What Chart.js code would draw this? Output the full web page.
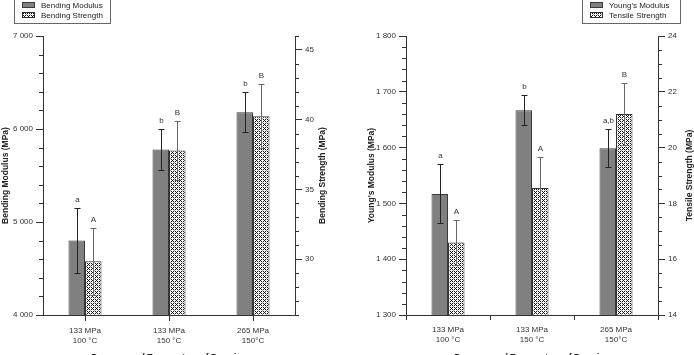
<!DOCTYPE html>
<html><head><meta charset="utf-8">
<script src="https://cdn.jsdelivr.net/npm/chart.js@4.4.1/dist/chart.umd.min.js"></script>
<style>
html,body{margin:0;padding:0;width:694px;height:355px;overflow:hidden;background:#fff;}
canvas{position:absolute;top:0;}
#c1{left:0}#c2{left:347px}
</style></head><body>
<canvas id="c1" width="347" height="370"></canvas>
<canvas id="c2" width="347" height="370"></canvas>
<script>
const categories = [['133 MPa','100 °C'],['133 MPa','150 °C'],['265 MPa','150°C']];
const bendingModulus = [4800, 5780, 6180];
const bendingModulusErr = [350, 220, 215];
const bendingModulusLetters = ['a','b','b'];
const bendingStrength = [29.85, 37.8, 40.25];
const bendingStrengthErr = [2.4, 2.1, 2.3];
const bendingStrengthLetters = ['A','B','B'];
const youngsModulus = [1517, 1667, 1599];
const youngsModulusErr = [53, 27, 34];
const youngsModulusLetters = ['a','b','a,b'];
const tensileStrength = [16.6, 18.55, 21.2];
const tensileStrengthErr = [0.8, 1.1, 1.1];
const tensileStrengthLetters = ['A','A','B'];

const FONT = "'Liberation Sans', Arial, sans-serif";
Chart.defaults.font.family = FONT;
Chart.defaults.font.size = 8;
Chart.defaults.color = '#333';
Chart.defaults.animation = false;

function hatch(ctx){
  const c=document.createElement('canvas'); c.width=4; c.height=4;
  const g=c.getContext('2d'); g.fillStyle='#fff'; g.fillRect(0,0,4,4);
  g.fillStyle='#111';
  [[0,0],[1,1],[3,3],[1,3],[3,1]].forEach(p=>g.fillRect(p[0],p[1],1,1));
  g.fillStyle='#999';
  [[2,2]].forEach(p=>g.fillRect(p[0],p[1],1,1));
  return ctx.createPattern(c,'repeat');
}
function isMajor(v,m){ const r=v/m; return Math.abs(r-Math.round(r))<1e-6; }
function thousands(v){ return String(Math.round(v)).replace(/\B(?=(\d{3})+(?!\d))/g,' '); }

function yAxis(pos,min,max,step,major,fmt,width,title,titlePad){
  return {
    type:'linear', position:pos, min:min, max:max,
    afterFit(s){ s.width=width; },
    ticks:{stepSize:step, autoSkip:false, padding:3, color:'#333', font:{size:8},
      callback:(v)=> isMajor(v,major)? fmt(v):''},
    grid:{display:true, drawOnChartArea:false, drawTicks:true, tickLength:7, tickWidth:1,
      tickColor:(c)=> (c.tick && isMajor(c.tick.value,major))?'#333':'rgba(0,0,0,0)'},
    border:{display:true,color:'#333',width:1},
    title: title? {display:true,text:title,color:'#222',font:{size:8.5,weight:'bold'},padding:{top:titlePad,bottom:0}} : {display:false},
    _major:major
  };
}
function xAxis(gridOffset,tickLen){
  return {
    type:'category', offset:true,
    afterFit(s){ s.height=55; },
    grid:{display:true, drawOnChartArea:false, offset:gridOffset, tickLength:tickLen, tickColor:'#333'},
    border:{display:true,color:'#333',width:1},
    ticks:{padding:5, maxRotation:0, autoSkip:false, color:'#333', font:{size:8}},
    title:{display:true,text:'Pressure and Temperature of Pressing',color:'#222',font:{size:8.5,weight:'bold'},padding:{top:0,bottom:7.5}}
  };
}

const extras = {
  id:'extras',
  afterDatasetsDraw(chart){
    const ctx=chart.ctx;
    chart.data.datasets.forEach((ds,i)=>{
      const meta=chart.getDatasetMeta(i);
      const ys=chart.scales[ds.yAxisID];
      meta.data.forEach((el,j)=>{
        const v=ds.data[j], e=ds.err[j];
        const x=Math.round(el.x)+0.5;
        const top=Math.round(ys.getPixelForValue(v+e))+0.5, bot=Math.round(ys.getPixelForValue(v-e))+0.5;
        ctx.save();
        ctx.lineWidth=1; ctx.strokeStyle=ds.errColor;
        ctx.beginPath(); ctx.moveTo(x,top); ctx.lineTo(x,bot);
        ctx.moveTo(x-3,top); ctx.lineTo(x+3,top);
        ctx.moveTo(x-3,bot); ctx.lineTo(x+3,bot); ctx.stroke();
        ctx.fillStyle='#333'; ctx.font='8px '+FONT; ctx.textAlign='center'; ctx.textBaseline='middle';
        ctx.fillText(ds.letters[j], x, top-9);
        ctx.restore();
      });
    });
  },
  afterDraw(chart,args,opts){
    const ctx=chart.ctx;
    ctx.save();
    ctx.strokeStyle='#333'; ctx.lineWidth=1;
    ['y','y1'].forEach(id=>{
      const s=chart.scales[id]; const m=s.options._major;
      s.ticks.forEach(t=>{
        if(isMajor(t.value,m)) return;
        const y=Math.round(s.getPixelForValue(t.value))+0.5;
        ctx.beginPath();
        if(s.position==='left'){ ctx.moveTo(s.right-4,y); ctx.lineTo(s.right,y); }
        else { ctx.moveTo(s.left,y); ctx.lineTo(s.left+4,y); }
        ctx.stroke();
      });
    });
    const ca=chart.chartArea;
    ctx.save();
    ctx.translate(opts.rightTitleX,(ca.top+ca.bottom)/2);
    ctx.rotate(-Math.PI/2);
    ctx.fillStyle='#222'; ctx.font='bold 8.5px '+FONT; ctx.textAlign='center'; ctx.textBaseline='middle';
    ctx.fillText(opts.rightTitle,0,0);
    ctx.restore();
    const x0=opts.legendX;
    ctx.strokeStyle='#666';
    ctx.strokeRect(x0+0.5,-0.5,opts.legendW,24);
    chart.data.datasets.forEach((ds,i)=>{
      const yc=5+i*10;
      ctx.fillStyle=ds.backgroundColor; ctx.fillRect(x0+8,yc-3,13,6);
      ctx.strokeStyle=ds.borderColor; ctx.strokeRect(x0+8.5,yc-2.5,12,5);
      ctx.fillStyle='#222'; ctx.font='8px '+FONT; ctx.textAlign='left'; ctx.textBaseline='middle';
      ctx.fillText(ds.label,x0+27,yc+0.5);
    });
    ctx.restore();
  }
};

function makeChart(id,cfg){
  const cv=document.getElementById(id); const ctx=cv.getContext('2d');
  const pat=hatch(ctx);
  return new Chart(ctx,{
    type:'bar',
    data:{labels:categories, datasets:[
      {label:cfg.l1, data:cfg.d1, err:cfg.e1, letters:cfg.t1, yAxisID:'y', backgroundColor:'#808080', borderColor:'#3a3a3a', borderWidth:1, errColor:'#222', categoryPercentage:0.393, barPercentage:1},
      {label:cfg.l2, data:cfg.d2, err:cfg.e2, letters:cfg.t2, yAxisID:'y1', backgroundColor:pat, borderColor:'#333', borderWidth:1, errColor:'#666', categoryPercentage:0.393, barPercentage:1}
    ]},
    options:{
      responsive:false, animation:false,
      layout:{padding:{top:36,left:0,right:cfg.padRight,bottom:0}},
      plugins:{legend:{display:false}, tooltip:{enabled:false},
        extras:{rightTitle:cfg.rightTitle, rightTitleX:cfg.rightTitleX, legendX:cfg.legendX, legendW:cfg.legendW}},
      scales:{
        x:xAxis(cfg.gridOffset,cfg.xTick),
        y:yAxis('left',cfg.min1,cfg.max1,cfg.step1,cfg.major1,cfg.fmt1,cfg.w1,cfg.leftTitle,cfg.leftPad),
        y1:yAxis('right',cfg.min2,cfg.max2,cfg.step2,cfg.major2,(v)=>String(v),cfg.w2,null,0)
      }
    },
    plugins:[extras]
  });
}

makeChart('c1',{l1:'Bending Modulus',d1:bendingModulus,e1:bendingModulusErr,t1:bendingModulusLetters,
  l2:'Bending Strength',d2:bendingStrength,e2:bendingStrengthErr,t2:bendingStrengthLetters,
  min1:4000,max1:7000,step1:200,major1:1000,fmt1:thousands,w1:43,leftTitle:'Bending Modulus (MPa)',leftPad:1,
  min2:26,max2:46,step2:1,major2:5,w2:33,padRight:19,
  rightTitle:'Bending Strength (MPa)',rightTitleX:323,legendX:14,legendW:96,gridOffset:false,xTick:6});

makeChart('c2',{l1:"Young's Modulus",d1:youngsModulus,e1:youngsModulusErr,t1:youngsModulusLetters,
  l2:'Tensile Strength',d2:tensileStrength,e2:tensileStrengthErr,t2:tensileStrengthLetters,
  min1:1300,max1:1800,step1:20,major1:100,fmt1:thousands,w1:59,leftTitle:"Young's Modulus (MPa)",leftPad:20,
  min2:14,max2:24,step2:0.5,major2:2,w2:36,padRight:0,
  rightTitle:'Tensile Strength (MPa)',rightTitleX:343,legendX:235,legendW:98,gridOffset:true,xTick:5});
</script>
</body></html>
